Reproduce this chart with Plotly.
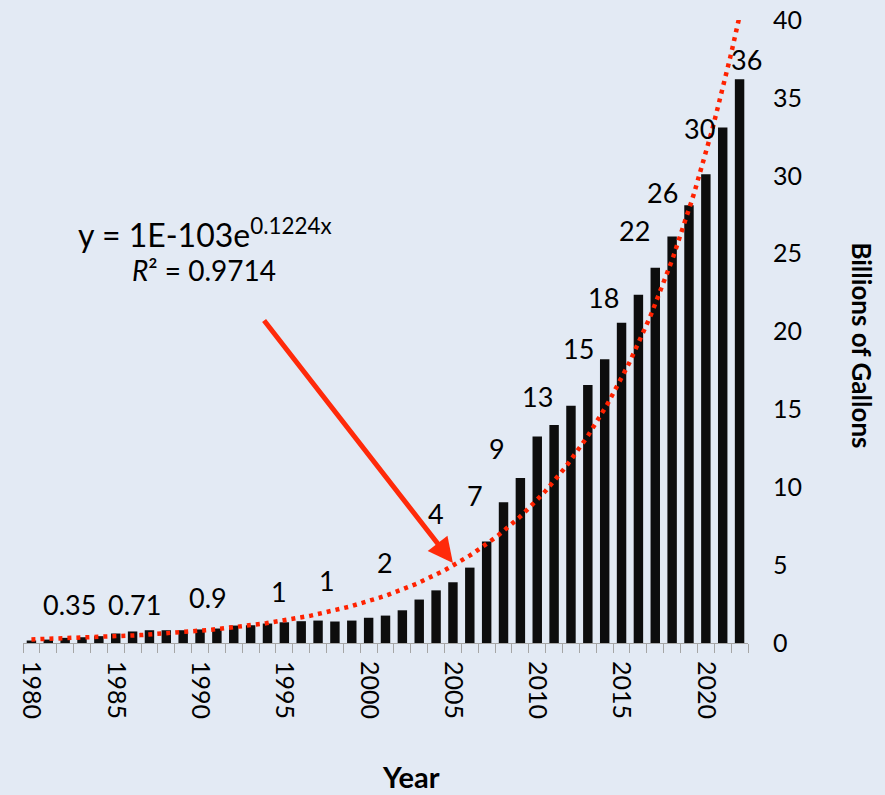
import numpy as np
import plotly.graph_objects as go

# ---- data ----
years = list(range(1980, 2023))
gallons = [0.16, 0.22, 0.33, 0.37, 0.44, 0.61, 0.74, 0.82, 0.82, 0.82,
           0.87, 0.93, 1.12, 1.14, 1.25, 1.33, 1.40, 1.44, 1.38, 1.44,
           1.62, 1.76, 2.10, 2.79, 3.38, 3.90, 4.84, 6.51, 9.03, 10.6,
           13.26, 14.0, 15.24, 16.57, 18.22, 20.56, 22.36, 24.09, 26.1, 28.1,
           30.1, 33.1, 36.2]

label_text = ["0.35", "0.71", "0.9", "1", "1", "2", "4", "7", "9", "13",
              "15", "18", "22", "26", "30", "36"]
label_x = [1982.25, 1986.11, 1990.5, 1994.71, 1997.51, 2000.99, 2004.02, 2006.31,
           2007.64, 2010.03, 2012.46, 2013.94, 2015.78, 2017.43, 2019.6, 2022.39]
label_y = [2.49, 2.49, 2.90, 3.29, 4.01, 5.17, 8.29, 9.44, 12.46, 15.85,
           18.93, 22.17, 26.51, 28.93, 33.04, 37.47]

x_ticks = [1980, 1985, 1990, 1995, 2000, 2005, 2010, 2015, 2020]
y_ticks = [0, 5, 10, 15, 20, 25, 30, 35, 40]

equation_text = "y = 1E-103e<sup>0.1224x</sup>"
r2_text = "<i>R</i>² = 0.9714"

# exponential trendline fitted from the bar values (log-linear least squares)
yr = np.array(years, dtype=float)
b, ln_a = np.polyfit(yr - 1980, np.log(gallons), 1)
trend_x = np.linspace(1980, 2022, 300)
trend_y = np.exp(ln_a) * np.exp(b * (trend_x - 1980))

BG = "#E3EAF4"
FONT = "Lato"

fig = go.Figure()
fig.add_trace(go.Bar(x=years, y=gallons, width=0.56,
                     marker=dict(color="#0D0D0D", line=dict(width=0)),
                     showlegend=False, hoverinfo="x+y"))
fig.add_trace(go.Scatter(x=trend_x, y=trend_y, mode="lines",
                         line=dict(color="#FF2200", width=4.5, dash="4px,5px"),
                         showlegend=False, hoverinfo="skip"))

for t, lx, ly in zip(label_text, label_x, label_y):
    fig.add_annotation(x=lx, y=ly, text=t, showarrow=False,
                       font=dict(family=FONT, size=27, color="#000000"))

# arrow pointing at the trendline
fig.add_annotation(x=2005.0, y=5.13, ax=1993.73, ay=20.8, axref="x", ayref="y",
                   text="", showarrow=True, arrowhead=2, arrowsize=1,
                   arrowwidth=5, arrowcolor="#FF2A0A")

fig.add_annotation(x=1982.67, y=26.3, xanchor="left", text=equation_text,
                   showarrow=False, font=dict(family=FONT, size=32, color="#000000"))
fig.add_annotation(x=1990.23, y=23.93, text=r2_text, showarrow=False,
                   font=dict(family=FONT, size=28, color="#000000"))

# axis titles
fig.add_annotation(xref="paper", yref="paper", x=0.535, y=-0.215,
                   xanchor="center", yanchor="middle",
                   text="<b>Year</b>", showarrow=False,
                   font=dict(family=FONT, size=29, color="#000000"))
fig.add_annotation(xref="paper", yref="paper", x=1.157, y=0.478,
                   xanchor="center", yanchor="middle",
                   text="<b>Billions of Gallons</b>",
                   textangle=90, showarrow=False,
                   font=dict(family=FONT, size=26, color="#000000"))

fig.update_layout(
    width=885, height=795,
    margin=dict(l=23, r=137, t=20, b=152, autoexpand=False),
    paper_bgcolor=BG, plot_bgcolor=BG,
    font=dict(family=FONT, color="#000000"),
    bargap=0.44,
    xaxis=dict(range=[1979.5, 2022.5], tickmode="array", tickvals=x_ticks,
               ticktext=[str(v) for v in x_ticks], tickangle=90,
               ticks="", showgrid=False, zeroline=False, automargin=False,
               showline=True, linecolor="#A6A6A6", linewidth=1,
               tickfont=dict(family=FONT, size=25, color="#000000"),
               ticklabelstandoff=12,
               minor=dict(tick0=1979.5, dtick=1, ticks="outside", ticklen=9,
                          tickcolor="#A6A6A6", tickwidth=1, showgrid=False)),
    yaxis=dict(range=[0, 40], side="right", tickmode="array", tickvals=y_ticks,
               ticks="", showgrid=False, zeroline=False, showline=False, automargin=False,
               tickfont=dict(family=FONT, size=25, color="#000000"),
               ticklabelstandoff=24),
)

fig.write_html("out.html", config={"displayModeBar": False},
               post_script="document.body.style.margin='0';document.body.style.background='#E3EAF4';")
